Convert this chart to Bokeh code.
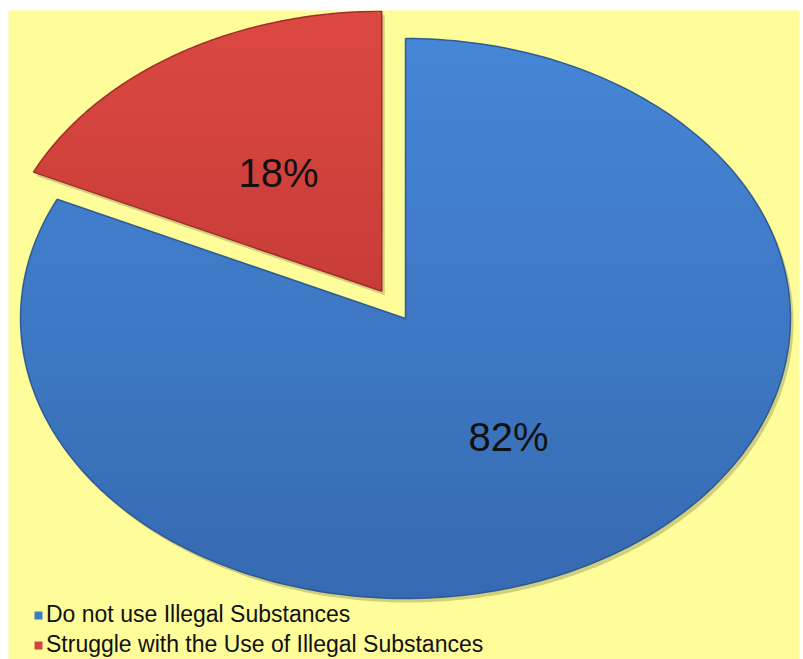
import numpy as np
from bokeh.plotting import figure
from bokeh.models import Range1d, Legend, LegendItem
from bokeh.core.properties import value
from bokeh.embed import file_html
from bokeh.resources import INLINE

# ---- data ----
categories = ["Do not use Illegal Substances", "Struggle with the Use of Illegal Substances"]
percentages = [82, 18]
labels = ["82%", "18%"]

# ---- styling ----
colors = ["#3D7BC8", "#D6443F"]
top_colors = [(70, 134, 214), (220, 72, 66)]
bottom_colors = [(54, 106, 178), (200, 60, 56)]
edge_colors = ["#28558F", "#982A27"]
explode = [0.0, 0.115]

W, H = 803, 659
p = figure(width=W, height=H, output_backend="svg", toolbar_location=None,
           x_range=Range1d(8, 799), y_range=Range1d(0, 649),
           x_axis_type=None, y_axis_type=None,
           min_border_left=8, min_border_right=4, min_border_top=10, min_border_bottom=0,
           background_fill_color="#FFFC9A", border_fill_color="white",
           outline_line_color=None)
p.grid.visible = False

cx, cy, rx, ry = 405, 341, 385, 280
total = float(sum(percentages))

geoms = []
start = 90.0
for i, pct in enumerate(percentages):
    sweep = pct / total * 360.0
    a0, a1 = start, start - sweep
    mid = np.radians((a0 + a1) / 2)
    ox = cx + explode[i] * rx * np.cos(mid)
    oy = cy + explode[i] * ry * np.sin(mid)
    t = np.radians(np.linspace(a0, a1, 240))
    xs = np.concatenate([[ox], ox + rx * np.cos(t)])
    ys = np.concatenate([[oy], oy + ry * np.sin(t)])
    geoms.append((xs, ys, ox, oy, mid))
    start = a1


def clip(xs, ys, y0, keep_above):
    pts = list(zip(xs, ys))
    out = []
    n = len(pts)
    for k in range(n):
        cx_, cy_ = pts[k]
        px_, py_ = pts[k - 1]
        cin = (cy_ >= y0) if keep_above else (cy_ <= y0)
        pin = (py_ >= y0) if keep_above else (py_ <= y0)
        if cin:
            if not pin:
                f = (y0 - py_) / (cy_ - py_)
                out.append((px_ + f * (cx_ - px_), y0))
            out.append((cx_, cy_))
        elif pin:
            f = (y0 - py_) / (cy_ - py_)
            out.append((px_ + f * (cx_ - px_), y0))
    if not out:
        return [], []
    a, b = zip(*out)
    return list(a), list(b)


# soft shadows
for xs, ys, ox, oy, mid in geoms:
    p.patch(xs + 3, ys - 4, fill_color="black", fill_alpha=0.18, line_color=None)

renderers = []
nb = 40
for i, (xs, ys, ox, oy, mid) in enumerate(geoms):
    r = p.patch(xs, ys, fill_color=colors[i], line_color=None)
    renderers.append(r)
    ylo, yhi = ys.min(), ys.max()
    edges = np.linspace(ylo, yhi, nb + 1)
    bx, by, bc = [], [], []
    for k in range(nb):
        x1, y1 = clip(xs, ys, edges[k] - 0.6, True)
        if not x1:
            continue
        x2, y2 = clip(x1, y1, edges[k + 1] + 0.6, False)
        if not x2:
            continue
        f = (k + 0.5) / nb
        c = tuple(int(round(bottom_colors[i][j] + f * (top_colors[i][j] - bottom_colors[i][j]))) for j in range(3))
        bx.append(x2)
        by.append(y2)
        bc.append("#%02x%02x%02x" % c)
    p.patches(bx, by, fill_color=bc, line_color=None)
    p.patch(xs, ys, fill_color=None, line_color=edge_colors[i], line_width=1.5, line_alpha=0.9)

lx = [ox + 0.5 * rx * np.cos(mid) for xs, ys, ox, oy, mid in geoms]
ly = [oy + 0.5 * ry * np.sin(mid) for xs, ys, ox, oy, mid in geoms]
p.text(x=lx, y=ly, text=labels, text_font=value("Liberation Sans"),
       text_font_size="40px", text_align="center", text_baseline="middle",
       text_color="#111111")

legend = Legend(items=[LegendItem(label=categories[i], renderers=[renderers[i]])
                       for i in range(len(categories))],
                location=(25, 1), orientation="vertical",
                label_text_font="Liberation Sans", label_text_font_size="23px",
                label_text_color="#111111",
                glyph_width=10, glyph_height=10, label_standoff=3, spacing=3,
                label_height=26, padding=0, margin=0,
                border_line_alpha=0, background_fill_alpha=0)
p.add_layout(legend)

open("out.html", "w").write(file_html(p, INLINE))
